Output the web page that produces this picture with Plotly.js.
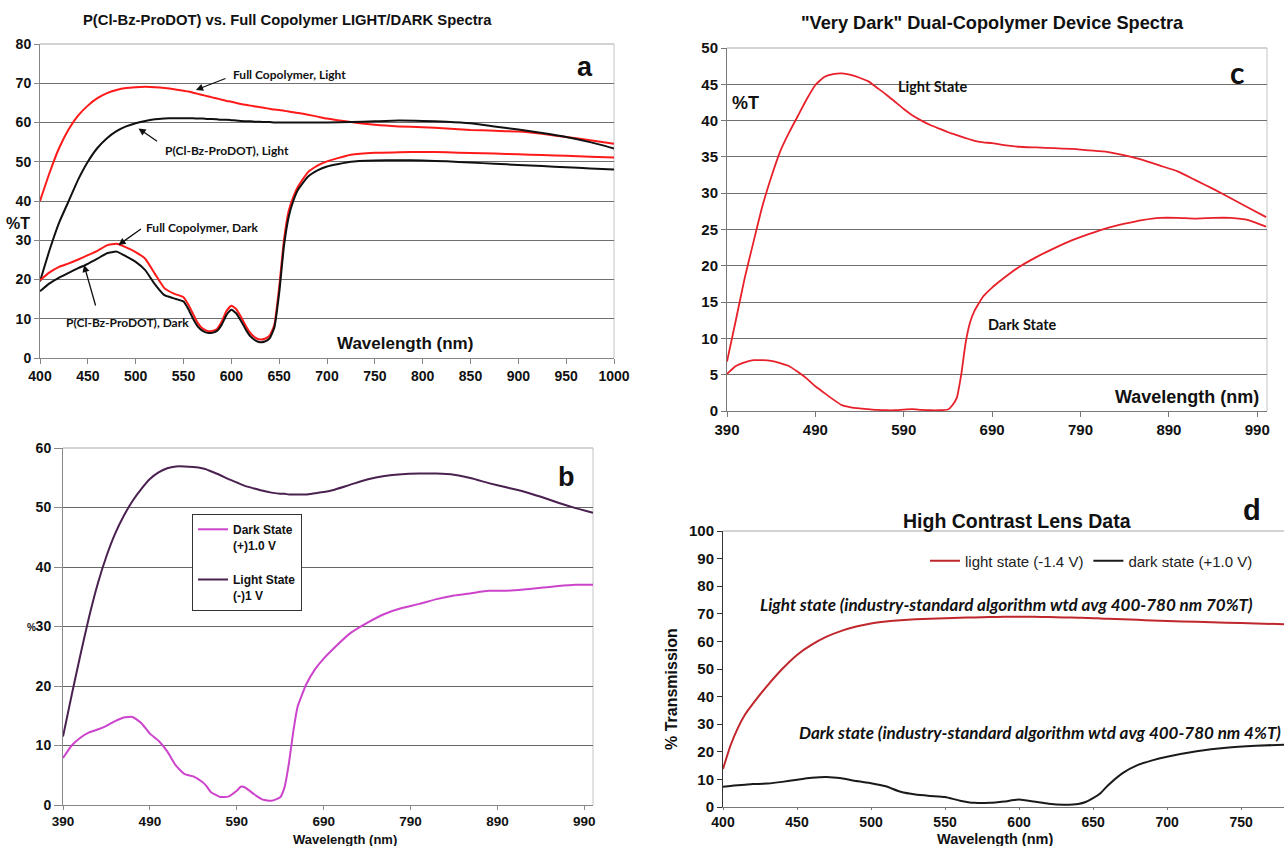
<!DOCTYPE html>
<html>
<head>
<meta charset="utf-8">
<script src="https://cdn.plot.ly/plotly-3.0.1.min.js"></script>
<style>html,body{margin:0;padding:0;background:#fff;}#chart{width:1284px;height:846px;}</style>
</head>
<body>
<div id="chart"></div>
<script>
// ---------- Panel a ----------
const aWavelength = [400,410,420,430,440,450,460,470,480,490,500,510,520,530,540,550,555,560,565,570,575,580,585,590,595,600,605,610,615,620,625,630,635,640,645,650,655,660,665,670,680,690,700,725,750,775,800,825,850,875,900,925,950,975,1000];
const aFullLight = [40,47.2,53.5,58.3,61.8,64.3,66.2,67.5,68.3,68.8,69.0,69.1,69.0,68.8,68.5,68.1,67.9,67.6,67.3,67.0,66.7,66.4,66.1,65.8,65.5,65.3,65.0,64.7,64.5,64.3,64.1,63.9,63.7,63.5,63.3,63.2,63.0,62.8,62.6,62.4,62.0,61.5,61.0,60.1,59.4,59.0,58.8,58.5,58.1,57.9,57.7,57.1,56.3,55.5,54.6];
const aProDotLight = [19.5,27.5,34.5,40.0,45.5,50.0,53.5,56.0,57.8,59.0,59.8,60.4,60.8,61.0,61.1,61.1,61.1,61.1,61.0,61.0,60.9,60.9,60.8,60.7,60.7,60.6,60.5,60.4,60.3,60.3,60.2,60.2,60.1,60.1,60.0,60.0,60.0,60.0,60.0,60.0,60.0,60.0,60.0,60.1,60.3,60.5,60.4,60.2,59.8,59.0,58.2,57.3,56.3,55.0,53.4];
const aFullDark = [19.8,21.8,23.2,24.1,25.1,26.2,27.3,28.7,29.1,28.2,27.0,25.3,21.5,17.8,16.4,15.5,13.6,11.2,8.9,7.5,6.9,6.9,7.4,9.3,12.0,13.3,12.5,10.5,8.2,6.3,5.2,4.7,4.9,5.7,8.5,18.0,30.0,37.5,41.2,43.8,47.3,49.0,50.1,51.8,52.3,52.4,52.5,52.4,52.2,52.1,51.9,51.7,51.5,51.3,51.1];
const aProDotDark = [17.0,19.0,20.5,21.7,22.9,24.0,25.3,26.7,27.1,25.9,24.5,22.4,18.8,16.0,15.2,14.4,12.5,10.0,8.0,6.9,6.4,6.4,6.9,8.5,11.0,12.3,11.4,9.5,7.3,5.5,4.5,4.0,4.2,5.0,7.8,16.5,28.5,36.0,40.2,43.0,46.2,47.8,48.8,50.0,50.3,50.4,50.3,50.1,49.8,49.5,49.2,48.9,48.6,48.3,48.0];
const aXTicks = [400,450,500,550,600,650,700,750,800,850,900,950,1000];

// ---------- Panel b ----------
const bWavelength = [390,400,410,420,430,440,450,460,470,480,490,500,510,520,530,540,550,555,560,570,580,590,595,600,610,620,630,640,645,650,655,660,670,680,690,700,720,740,760,780,800,820,840,860,880,900,920,940,960,980,1000];
const bDark = [7.9,10.0,11.3,12.2,12.7,13.3,14.1,14.7,14.8,13.8,12.0,10.8,9.0,6.6,5.2,4.8,3.9,3.2,2.2,1.4,1.4,2.4,3.1,2.9,1.8,0.9,0.7,1.3,3.0,7.0,12.3,16.5,20.3,22.8,24.6,26.1,28.8,30.6,32.1,33.1,33.8,34.6,35.2,35.6,36.0,36.0,36.2,36.5,36.8,37.0,37.0];
const bLight = [11.5,18.5,25.2,31.6,37.2,41.8,45.6,48.6,51.1,53.1,54.8,55.9,56.6,56.9,56.9,56.8,56.6,56.4,56.1,55.5,54.8,54.2,53.9,53.6,53.2,52.8,52.5,52.3,52.3,52.2,52.2,52.2,52.2,52.4,52.6,52.9,53.8,54.7,55.3,55.6,55.7,55.7,55.5,54.9,54.1,53.4,52.7,51.8,50.8,49.9,49.1];
const bXTicks = [390,490,590,690,790,890,990];

// ---------- Panel c ----------
const cWavelength = [390,400,410,420,430,440,450,460,470,480,490,500,510,520,530,540,550,560,570,580,590,600,610,620,630,640,645,650,655,660,665,670,680,690,700,720,740,760,780,800,820,840,860,880,900,920,940,960,980,1000];
const cLight = [6.8,12.5,18.3,23.3,28.2,32.2,35.7,38.3,40.6,42.9,44.9,46.0,46.4,46.5,46.3,45.9,45.4,44.5,43.6,42.6,41.6,40.7,40.0,39.4,38.9,38.4,38.2,38.0,37.8,37.6,37.4,37.2,37.0,36.9,36.7,36.4,36.3,36.2,36.1,35.9,35.7,35.2,34.6,33.8,33.0,31.8,30.6,29.3,28.0,26.7];
const cDark = [5.1,6.2,6.7,7.0,7.0,6.9,6.6,6.2,5.4,4.5,3.4,2.5,1.6,0.8,0.5,0.35,0.25,0.15,0.1,0.1,0.2,0.25,0.15,0.1,0.1,0.2,0.8,1.8,5.0,9.4,12.2,13.8,15.8,17.0,18.0,19.8,21.2,22.4,23.5,24.4,25.2,25.8,26.3,26.6,26.6,26.5,26.6,26.6,26.3,25.4];
const cXTicks = [390,490,590,690,790,890,990];

// ---------- Panel d ----------
const dWavelength = [400,405,410,415,420,430,440,450,460,470,480,490,500,510,520,530,540,550,560,570,580,590,600,610,620,630,640,645,650,655,660,670,680,690,700,720,740,760,780];
const dLight = [13.8,22.2,28.6,33.6,37.3,44.0,50.0,55.1,58.8,61.7,63.8,65.4,66.5,67.2,67.7,68.0,68.2,68.4,68.6,68.7,68.8,68.9,68.9,68.9,68.8,68.7,68.6,68.5,68.4,68.3,68.2,68.0,67.8,67.6,67.4,67.1,66.8,66.5,66.2];
const dDark = [7.3,7.6,7.9,8.1,8.3,8.5,9.1,9.9,10.6,10.9,10.4,9.4,8.6,7.5,5.5,4.5,4.0,3.6,2.3,1.5,1.5,2.0,2.7,2.0,1.2,0.85,1.1,1.8,3.2,5.0,7.8,12.3,15.2,16.9,18.2,20.2,21.5,22.2,22.6];
const dXTicks = [400,450,500,550,600,650,700,750];

// ---------- helpers ----------
const W = 1284, H = 846;
const PX = x => x / W;
const PY = y => 1 - y / H;
const ARIAL = 'Liberation Sans, Arial, sans-serif';
const CALIBRI = 'Lato, Carlito, sans-serif';

function ln(x, y, color, width, xa, ya, extra) {
  return Object.assign({x: x, y: y, type: 'scatter', mode: 'lines', xaxis: xa, yaxis: ya,
    line: {color: color, width: width, shape: 'spline', smoothing: 0.45}, hoverinfo: 'skip', showlegend: false}, extra || {});
}

const traces = [
  ln(aWavelength, aFullLight, '#ff1a1a', 2, 'x', 'y'),
  ln(aWavelength, aProDotLight, '#111111', 2, 'x', 'y'),
  ln(aWavelength, aFullDark, '#ff1a1a', 2, 'x', 'y'),
  ln(aWavelength, aProDotDark, '#111111', 2, 'x', 'y'),
  ln(cWavelength, cLight, '#e8202a', 1.8, 'x2', 'y2'),
  ln(cWavelength, cDark, '#e8202a', 1.8, 'x2', 'y2'),
  ln(bWavelength, bDark, '#cc44cc', 2, 'x3', 'y3', {name: 'Dark State<br>(+)1.0 V', showlegend: true, legend: 'legend', legendgroup: 'bd'}),
  ln(bWavelength, bLight, '#4a2150', 2, 'x3', 'y3', {name: 'Light State<br>(-)1 V', showlegend: true, legend: 'legend', legendgroup: 'bl'}),
  ln(dWavelength, dLight, '#c0272d', 2, 'x4', 'y4', {name: 'light state (-1.4 V)', showlegend: true, legend: 'legend2'}),
  ln(dWavelength, dDark, '#1a1a1a', 2, 'x4', 'y4', {name: 'dark state (+1.0 V)', showlegend: true, legend: 'legend2'})
];

function xax(domain, range, tickvals, anchor, size, col, tlen) {
  return {domain: domain, range: range, anchor: anchor, tickmode: 'array', tickvals: tickvals,
    ticks: 'outside', ticklen: tlen || 5, tickcolor: col, tickwidth: 1, showline: true, linecolor: col, linewidth: 1,
    showgrid: false, zeroline: false, fixedrange: true,
    tickfont: {family: ARIAL, size: size, color: '#111', weight: 'bold'}};
}
function yax(domain, range, dtick, anchor, size, col, grid, gridcol, tlen) {
  return {domain: domain, range: range, anchor: anchor, tick0: 0, dtick: dtick,
    ticks: 'outside', ticklen: tlen || 5, tickcolor: col, tickwidth: 1, showline: true, linecolor: col, linewidth: 1,
    showgrid: grid, gridcolor: gridcol, gridwidth: 1, zeroline: false, fixedrange: true,
    tickfont: {family: ARIAL, size: size, color: '#111', weight: 'bold'}};
}

function txt(text, x, y, size, opts) {
  return Object.assign({text: text, xref: 'paper', yref: 'paper', x: PX(x), y: PY(y),
    xanchor: 'center', yanchor: 'middle', showarrow: false,
    font: {family: ARIAL, size: size, color: '#111', weight: 'bold'}}, opts || {});
}
function arrow(x, y, ax, ay) {
  return {text: '', xref: 'x', yref: 'y', x: x, y: y, ax: ax, ay: ay, showarrow: true,
    arrowhead: 2, arrowsize: 1.1, arrowwidth: 1.3, arrowcolor: '#111'};
}
const calib = (s, it) => ({family: CALIBRI, size: s, color: '#111', weight: 'bold', style: it ? 'italic' : 'normal'});

const annotations = [
  txt('P(Cl-Bz-ProDOT) vs. Full Copolymer LIGHT/DARK Spectra', 287, 20, 14.8),
  txt('"Very Dark" Dual-Copolymer Device Spectra', 993, 23, 18.2),
  txt('High Contrast Lens Data', 1017, 521, 19.5),
  txt('a', 585, 67, 27),
  txt('b', 566, 477, 27),
  txt('c', 1237, 72, 28, {font: calib(30)}),
  txt('d', 1252, 510, 29),
  txt('%T', 18, 224, 16),
  txt('%T', 745, 103, 18),
  txt('%', 31, 627, 10),
  txt('Wavelength (nm)', 1187, 397, 18),
  txt('Wavelength (nm)', 405, 343, 17),
  txt('Wavelength (nm)', 345, 839, 13),
  txt('Wavelength (nm)', 995, 839, 14.5),
  txt('% Transmission', 671, 689, 16, {textangle: -90}),
  txt('Light State', 932, 87, 14.5, {font: calib(14.5)}),
  txt('Dark State', 1022, 324, 14.5, {font: calib(14.5)}),
  txt('Light state (industry-standard algorithm wtd avg 400-780 nm 70%T)', 1006, 604, 17, {font: calib(17, true)}),
  txt('Dark state (industry-standard algorithm wtd avg 400-780 nm 4%T)', 1040, 732, 17, {font: calib(17, true)}),
  txt('Full Copolymer, Light', 289, 75, 12, {font: calib(12)}),
  txt('P(Cl-Bz-ProDOT), Light', 227, 151, 12, {font: calib(12)}),
  txt('Full Copolymer, Dark', 202, 227, 12, {font: calib(12)}),
  txt('P(Cl-Bz-ProDOT), Dark', 127, 322, 12, {font: calib(12)}),
  arrow(563, 68.3, 31, -12),
  arrow(503, 58.5, 20, 14),
  arrow(482, 28.8, 24, -17),
  arrow(446, 23.7, 12, 42)
];

function border(xr, yr, right) {
  const s = [{type: 'line', xref: xr + ' domain', yref: yr + ' domain', x0: 0, x1: 1, y0: 1, y1: 1,
    line: {color: '#c4c4c4', width: 1.5}, layer: 'above'}];
  if (right) s.push({type: 'line', xref: xr + ' domain', yref: yr + ' domain', x0: 1, x1: 1, y0: 0, y1: 1,
    line: {color: '#c4c4c4', width: 1}, layer: 'below'});
  return s;
}

const layout = {
  width: W, height: H, margin: {l: 0, r: 0, t: 0, b: 0},
  paper_bgcolor: '#ffffff', plot_bgcolor: 'rgba(0,0,0,0)',
  xaxis: xax([PX(40), PX(614)], [400, 1000], aXTicks, 'y', 14, '#868686'),
  yaxis: yax([PY(358), PY(44)], [0, 80], 10, 'x', 14, '#868686', true, '#6f6f6f'),
  xaxis2: xax([PX(727), PX(1267)], [390, 1001], cXTicks, 'y2', 15, '#777777'),
  yaxis2: yax([PY(411), PY(48)], [0, 50], 5, 'x2', 15, '#777777', true, '#6f6f6f'),
  xaxis3: xax([PX(63), PX(593)], [390, 1000], bXTicks, 'y3', 13.5, '#888888', 4),
  yaxis3: yax([PY(805), PY(448)], [0, 60], 10, 'x3', 14, '#888888', true, '#666666', 8),
  xaxis4: xax([PX(723), 1], [400, 779], dXTicks, 'y4', 14, '#777777', 2),
  yaxis4: yax([PY(807), PY(531)], [0, 100], 10, 'x4', 15, '#333333', false, '#000'),
  legend: {x: PX(192), y: PY(514), xanchor: 'left', yanchor: 'top', bgcolor: '#ffffff',
    bordercolor: '#333333', borderwidth: 1, itemwidth: 30, tracegroupgap: 16, valign: 'top',
    font: {family: ARIAL, size: 12, color: '#111', weight: 'bold'}},
  legend2: {x: PX(925), y: PY(561), xanchor: 'left', yanchor: 'middle', orientation: 'h',
    bgcolor: 'rgba(0,0,0,0)', itemwidth: 30,
    font: {family: ARIAL, size: 15, color: '#222'}},
  annotations: annotations,
  shapes: [].concat(border('x', 'y', true), border('x2', 'y2', true), border('x3', 'y3', true), border('x4', 'y4', false))
};

Plotly.newPlot('chart', traces, layout, {displayModeBar: false, staticPlot: true});
</script>
</body>
</html>
